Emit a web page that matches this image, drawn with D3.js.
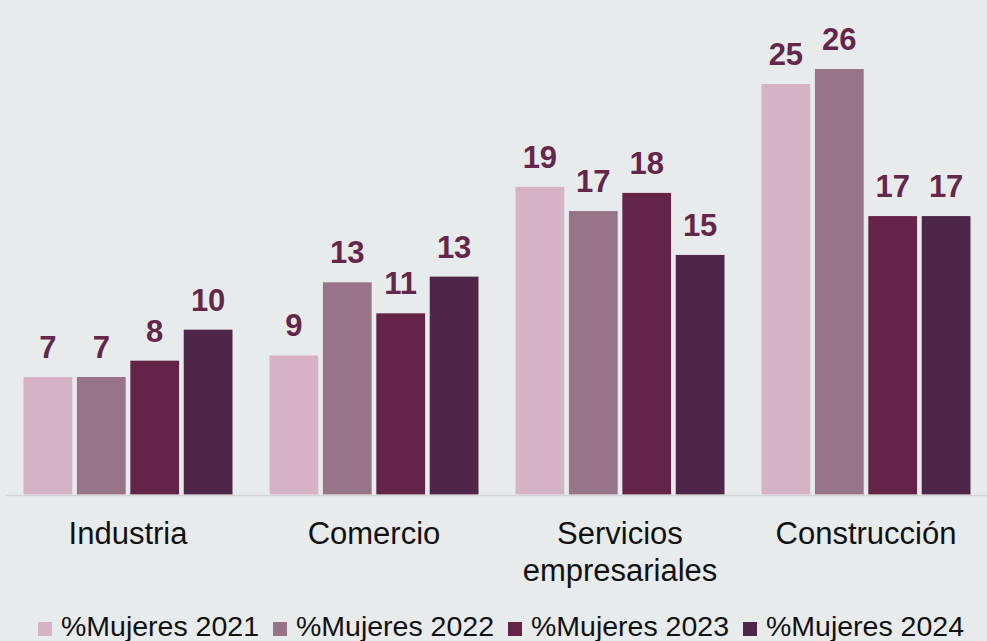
<!DOCTYPE html>
<html>
<head>
<meta charset="utf-8">
<script src="https://cdn.jsdelivr.net/npm/d3@7"></script>
<style>
  body { margin: 0; background: #e8ebec; }
  svg { display: block; font-family: "Liberation Sans", Arial, sans-serif; }
</style>
</head>
<body>
<div id="chart"></div>
<script>
// values (labels show them rounded)
var categories = ["Industria", "Comercio", "Servicios empresariales", "Construcción"];
var series = ["%Mujeres 2021", "%Mujeres 2022", "%Mujeres 2023", "%Mujeres 2024"];
var v2021 = [7.2, 8.52, 18.85, 25.15];
var v2022 = [7.2, 13.0, 17.37, 26.07];
var v2023 = [8.2, 11.1, 18.48, 17.06];
var v2024 = [10.1, 13.35, 14.68, 17.06];
var colors = ["#d6b3c3", "#987488", "#632448", "#4e2649"];

var values = [v2021, v2022, v2023, v2024];

var width = 987, height = 641;
var baseline = 494.5;

var svg = d3.select("#chart")
    .append("svg")
    .attr("width", width)
    .attr("height", height);

var x0 = d3.scaleBand()
    .domain(categories)
    .range([5, 989]);

var x1 = d3.scaleBand()
    .domain(series)
    .range([18.5, x0.bandwidth() - 18.5])
    .paddingInner(0.087);

var y = d3.scaleLinear()
    .domain([0, 30])
    .range([baseline, baseline - 489.6]);

var fmt = d3.format(".0f");

var rows = [];
categories.forEach(function(c, i) {
    series.forEach(function(s, j) {
        rows.push({cat: c, ser: s, idx: j, value: values[j][i]});
    });
});

var bars = svg.append("g").attr("class", "bars");

bars.selectAll("rect")
    .data(rows)
    .enter().append("rect")
    .attr("x", function(d) { return x0(d.cat) + x1(d.ser); })
    .attr("y", function(d) { return y(d.value); })
    .attr("width", x1.bandwidth())
    .attr("height", function(d) { return baseline - y(d.value); })
    .attr("fill", function(d) { return colors[d.idx]; });

bars.selectAll("text")
    .data(rows)
    .enter().append("text")
    .attr("x", function(d) { return x0(d.cat) + x1(d.ser) + x1.bandwidth() / 2; })
    .attr("y", function(d) { return y(d.value) - 19; })
    .attr("text-anchor", "middle")
    .attr("font-size", "31px")
    .attr("font-weight", "bold")
    .attr("fill", "#65264b")
    .text(function(d) { return fmt(d.value); });

// x axis: plain line, no ticks
var xAxis = d3.axisBottom(x0).tickSize(0).tickFormat("");
var axisG = svg.append("g")
    .attr("class", "x axis")
    .attr("transform", "translate(0," + (baseline + 0.5) + ")")
    .call(xAxis);
axisG.select(".domain").attr("stroke", "#d3d5d6").attr("stroke-width", 1.5);

// category labels, wrapped on two lines where needed
var catLabels = svg.append("g").attr("class", "cats");
categories.forEach(function(c) {
    var words = c.split(" ");
    var t = catLabels.append("text")
        .attr("x", x0(c) + x0.bandwidth() / 2)
        .attr("y", 544)
        .attr("text-anchor", "middle")
        .attr("font-size", "31px")
        .attr("fill", "#111");
    words.forEach(function(w, k) {
        t.append("tspan")
            .attr("x", x0(c) + x0.bandwidth() / 2)
            .attr("dy", k === 0 ? 0 : 37)
            .text(w);
    });
});

// legend
var legend = svg.append("g").attr("class", "legend");
var item = legend.selectAll("g")
    .data(series)
    .enter().append("g")
    .attr("transform", function(d, i) { return "translate(" + (38 + i * 235) + ",0)"; });

item.append("rect")
    .attr("y", 622)
    .attr("width", 14)
    .attr("height", 14)
    .attr("fill", function(d, i) { return colors[i]; });

item.append("text")
    .attr("x", 23)
    .attr("y", 636)
    .attr("font-size", "28.5px")
    .attr("fill", "#111")
    .text(function(d) { return d; });
</script>
</body>
</html>
